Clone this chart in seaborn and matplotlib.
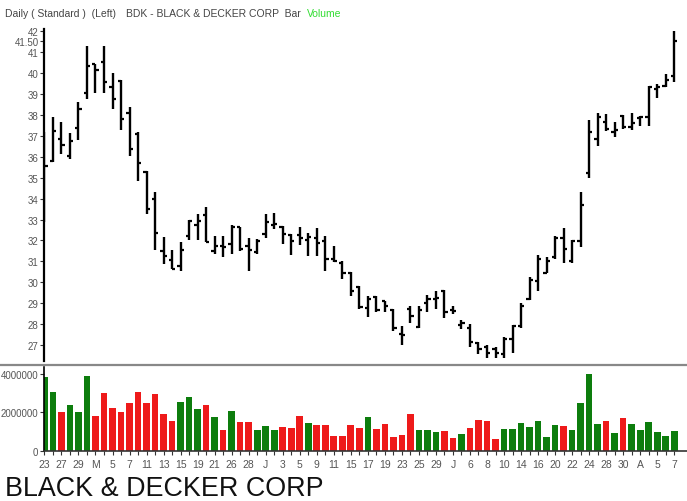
import numpy as np
import pandas as pd
import matplotlib
matplotlib.use("Agg")
import matplotlib.pyplot as plt
from matplotlib.lines import Line2D
import seaborn as sns

# ---------------- data ----------------
opens = [33.0, 35.77, 36.84, 36.04, 37.36, 39.01, 40.41, 40.52, 39.33, 39.62,
         38.06, 37.07, 35.27, 33.97, 31.51, 31.06, 30.79, 32.19, 32.73, 33.2,
         31.51, 31.75, 31.82, 32.62, 31.75, 31.43, 32.33, 32.72, 32.62, 32.27,
         32.27, 32.0, 32.14, 31.98, 31.1, 30.95, 30.47, 29.76, 28.8, 29.32,
         29.12, 28.68, 27.56, 28.75, 27.88, 29.04, 29.2, 29.6, 28.68, 27.98,
         27.82, 27.09, 26.93, 26.82, 26.58, 27.3, 27.93, 29.2, 30.08, 30.47,
         31.19, 32.14, 31.03, 31.98, 35.2, 36.84, 37.63, 37.15, 37.94, 37.42,
         37.85, 37.87, 39.22, 39.38, 39.86]
highs = [37.15, 37.9, 37.63, 37.11, 38.58, 41.29, 40.41, 41.29, 39.97, 39.65,
         38.35, 37.15, 35.29, 34.29, 32.17, 31.54, 31.91, 32.97, 33.26, 33.61,
         32.22, 32.22, 32.72, 32.64, 32.14, 32.06, 33.26, 33.29, 32.7, 32.33,
         32.62, 32.38, 32.59, 32.22, 31.75, 31.0, 30.52, 29.84, 29.36, 29.36,
         29.12, 28.73, 27.93, 28.89, 28.89, 29.41, 29.57, 29.63, 28.89, 28.2,
         28.01, 27.14, 27.03, 26.93, 27.38, 27.98, 29.04, 30.24, 31.32, 31.19,
         32.19, 32.59, 32.01, 34.29, 37.74, 38.06, 38.03, 37.63, 37.99, 38.06,
         37.94, 39.38, 39.46, 39.94, 41.97]
lows = [32.86, 35.72, 36.12, 35.88, 36.79, 38.74, 39.01, 39.01, 38.27, 37.26,
        36.04, 34.85, 33.26, 31.54, 30.9, 30.63, 30.55, 32.02, 32.0, 31.91,
        31.35, 31.22, 31.35, 31.51, 30.55, 31.35, 32.14, 32.54, 31.82, 31.32,
        31.79, 31.27, 31.27, 30.55, 30.98, 30.16, 29.36, 28.73, 28.33, 28.57,
        28.57, 27.7, 27.02, 28.09, 27.85, 28.57, 28.73, 28.3, 28.49, 27.77,
        26.9, 26.58, 26.42, 26.42, 26.42, 26.66, 27.82, 29.16, 29.6, 30.43,
        31.11, 30.95, 30.95, 31.67, 34.97, 36.52, 37.23, 36.94, 37.31, 37.26,
        37.47, 37.47, 38.79, 39.3, 39.54]
closes = [35.56, 37.23, 36.57, 36.76, 38.27, 40.33, 40.13, 39.54, 38.74, 37.79,
          36.36, 35.67, 33.5, 32.34, 31.27, 30.66, 31.54, 32.94, 32.94, 31.95,
          31.75, 31.68, 32.64, 31.6, 31.54, 31.98, 32.86, 32.78, 32.3, 31.98,
          32.14, 32.15, 31.86, 31.1, 31.0, 30.47, 29.6, 28.85, 29.2, 28.68,
          28.89, 27.82, 27.5, 28.4, 28.68, 29.2, 29.28, 28.57, 28.62, 28.06,
          27.14, 26.82, 26.66, 26.66, 27.3, 27.93, 28.89, 30.11, 31.14, 31.0,
          32.14, 31.59, 31.98, 33.7, 37.15, 37.87, 37.31, 37.26, 37.39, 37.58,
          37.9, 39.3, 39.3, 39.65, 41.5]
volumes = [3.86, 3.04, 2.03, 2.40, 2.00, 3.88, 1.83, 3.03, 2.24, 2.02,
           2.49, 3.06, 2.49, 2.96, 1.93, 1.57, 2.52, 2.82, 2.17, 2.40,
           1.77, 1.08, 2.05, 1.48, 1.50, 1.10, 1.30, 1.10, 1.25, 1.17,
           1.81, 1.43, 1.36, 1.36, 0.75, 0.75, 1.36, 1.19, 1.77, 1.13,
           1.39, 0.70, 0.82, 1.91, 1.08, 1.08, 0.96, 1.01, 0.64, 0.87,
           1.17, 1.62, 1.57, 0.61, 1.13, 1.13, 1.44, 1.22, 1.57, 0.70,
           1.36, 1.29, 1.08, 2.49, 4.00, 1.39, 1.53, 0.92, 1.70, 1.39,
           1.08, 1.51, 0.96, 0.78, 1.01]  # millions
date_labels = ["23", "27", "29", "M", "5", "7", "11", "13", "15", "19", "21",
               "26", "28", "J", "3", "5", "9", "11", "15", "17", "19", "23",
               "25", "29", "J", "6", "8", "10", "14", "16", "20", "22", "24",
               "28", "30", "A", "5", "7"]
month_starts = [6, 26, 48, 70]
price_ticks = [27, 28, 29, 30, 31, 32, 33, 34, 35, 36, 37, 38, 39, 40, 41, 41.5, 42]
price_tick_labels = ["27", "28", "29", "30", "31", "32", "33", "34", "35", "36",
                     "37", "38", "39", "40", "41", "41.50", "42"]
vol_ticks = [0, 2000000, 4000000]
vol_tick_labels = ["0", "2000000", "4000000"]

# ---------------- styling ----------------
sns.set_theme(style="white")
plt.rcParams['font.family'] = ['Liberation Sans', 'DejaVu Sans']

W, H = 687, 502
fig = plt.figure(figsize=(W / 100, H / 100), dpi=100)
fig.patch.set_facecolor("white")

GREEN = "#0d7d0d"
RED = "#ee1a1a"
LBL = "#555555"

n = len(closes)
idx = np.arange(n)
df = pd.DataFrame({"i": idx, "open": opens, "high": highs, "low": lows,
                   "close": closes, "vol": np.array(volumes) * 1e6})
df["dir"] = np.where(df["close"] > df["open"], "up", "down")

# ---------- price panel ----------
top_px, bot_px = 30, 361.7
axp = fig.add_axes([44 / W, 1 - bot_px / H, (W - 44) / W, (bot_px - top_px) / H])
axp.vlines(df["i"], df["low"], df["high"], color="black", lw=1.7)
tick = 0.38
axp.hlines(df["open"], df["i"] - tick, df["i"], color="black", lw=1.6)
axp.hlines(df["close"], df["i"], df["i"] + tick, color="black", lw=1.6)
axp.set_xlim(-0.05, 75.5)
axp.set_ylim(26.27, 42.08)
axp.set_yticks(price_ticks)
axp.set_yticklabels(price_tick_labels)
axp.set_xticks([])
for s in ["top", "right", "bottom"]:
    axp.spines[s].set_visible(False)
axp.spines["left"].set_color("black")
axp.spines["left"].set_linewidth(1.6)
axp.tick_params(axis="y", left=True, direction="out", length=3, width=0.8,
                color="#333333", labelsize=7, labelcolor=LBL, pad=1)
axp.set_facecolor("white")

# ---------- volume panel ----------
vtop_px, vbot_px = 368, 451.7
axv = fig.add_axes([44 / W, 1 - vbot_px / H, (W - 44) / W, (vbot_px - vtop_px) / H])
sns.barplot(data=df, x="i", y="vol", hue="dir", palette={"up": GREEN, "down": RED},
            native_scale=True, dodge=False, width=0.78, saturation=1,
            legend=False, ax=axv, linewidth=0)
axv.set_xlim(-0.05, 75.5)
axv.set_ylim(0, 4.0e6 * (vbot_px - vtop_px) / 76.7)
axv.set_yticks(vol_ticks)
axv.set_yticklabels(vol_tick_labels)
axv.set_xticks(idx)
axv.set_xticklabels([date_labels[k // 2] if k % 2 == 0 else "" for k in idx])
axv.set_xticks(month_starts, minor=True)
axv.set_xlabel("")
axv.set_ylabel("")
for s in ["top", "right"]:
    axv.spines[s].set_visible(False)
axv.spines["left"].set_color("black")
axv.spines["left"].set_linewidth(1.2)
axv.spines["bottom"].set_color("#333333")
axv.spines["bottom"].set_linewidth(1.2)
axv.tick_params(axis="y", left=True, direction="out", length=3, width=0.8,
                color="#333333", labelsize=7, labelcolor=LBL, pad=1)
axv.tick_params(axis="x", which="major", bottom=True, direction="out", length=3,
                width=0.8, color="#333333", labelsize=7.5, labelcolor=LBL, pad=3)
axv.tick_params(axis="x", which="minor", bottom=True, direction="out", length=7,
                width=1.0, color="#333333")
axv.set_facecolor("white")

# separator line between panels
fig.add_artist(Line2D([0, 1], [1 - 365.5 / H, 1 - 365.5 / H], transform=fig.transFigure,
                      color="#888888", lw=1.6))

# header
hy = 1 - 14 / H
fig.text(5 / W, hy, "Daily ( Standard )  (Left)", fontsize=7.5, color="#444444", va="center")
fig.text(126 / W, hy, "BDK - BLACK & DECKER CORP  Bar", fontsize=7.5, color="#444444", va="center")
fig.text(307 / W, hy, "Volume", fontsize=7.5, color="#33dd33", va="center")

# footer title
fig.text(5 / W, 1 - 489 / H, "BLACK & DECKER CORP", fontsize=19.4, color="#111111",
         va="center")

fig.savefig("out.png", dpi=100, facecolor="white")
